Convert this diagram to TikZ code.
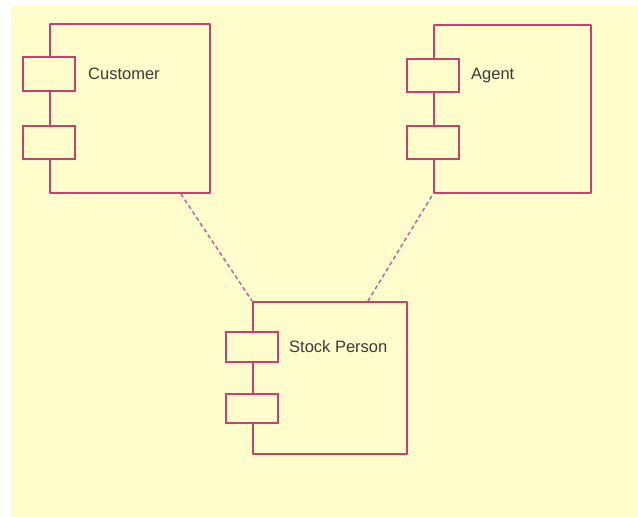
\documentclass[tikz,border=0pt]{standalone}
\usepackage{fontspec}
\setmainfont{Liberation Sans}
\usetikzlibrary{positioning}
\definecolor{pageyellow}{HTML}{FFFDCB}
\definecolor{cmpred}{HTML}{C8406E}
\definecolor{deppink}{HTML}{C060A0}
\definecolor{txtgray}{HTML}{3A3A3A}

\begin{document}
\begin{tikzpicture}[
    x=1pt, y=-1pt,
    every node/.style={text=txtgray},
    component/.style={draw=cmpred, line width=1.8pt, inner sep=0pt, rounded corners=0.5pt},
    port/.style={draw=cmpred, line width=1.8pt, fill=pageyellow, inner sep=0pt,
      minimum width=52pt, anchor=north},
    cmplabel/.style={font=\fontsize{16.5}{19}\selectfont, inner sep=0pt},
    dependency/.style={draw=deppink, line width=1.5pt, dash pattern=on 4pt off 3pt},
  ]

  % Background
  \useasboundingbox (0,0) rectangle (638,517);
  \fill[pageyellow] (11,6) rectangle (638,517);

  % === Customer ===
  \node[component, minimum width=160pt, minimum height=169pt] (cust) at (130,108.5) {};
  \node[port, minimum height=34pt] (cust-p1) at ([yshift=-33pt]cust.north west) {};
  \node[port, minimum height=33pt] (cust-p2) at ([yshift=-102pt]cust.north west) {};
  \node[cmplabel, right=12pt of cust-p1] (cust-name) {Customer};

  % === Agent ===
  \node[component, minimum width=157pt, minimum height=168pt] (agent) at (512.5,109) {};
  \node[port, minimum height=33pt] (agent-p1) at ([yshift=-34pt]agent.north west) {};
  \node[port, minimum height=33pt] (agent-p2) at ([yshift=-101pt]agent.north west) {};
  \node[cmplabel, right=11pt of agent-p1] (agent-name) {Agent};

  % === Stock Person ===
  \node[component, minimum width=154pt, minimum height=152pt] (stock) at (330,378) {};
  \node[port, minimum height=30pt] (stock-p1) at ([yshift=-30pt]stock.north west) {};
  \node[port, minimum height=29pt] (stock-p2) at ([yshift=-92pt]stock.north west) {};
  \node[cmplabel, right=10pt of stock-p1] (stock-name) {Stock Person};

  % Dependencies
  \draw[dependency] ([xshift=-30pt]cust.south east) -- (stock.north west);
  \draw[dependency] ([xshift=-40pt]stock.north east) -- (agent.south west);

\end{tikzpicture}
\end{document}
